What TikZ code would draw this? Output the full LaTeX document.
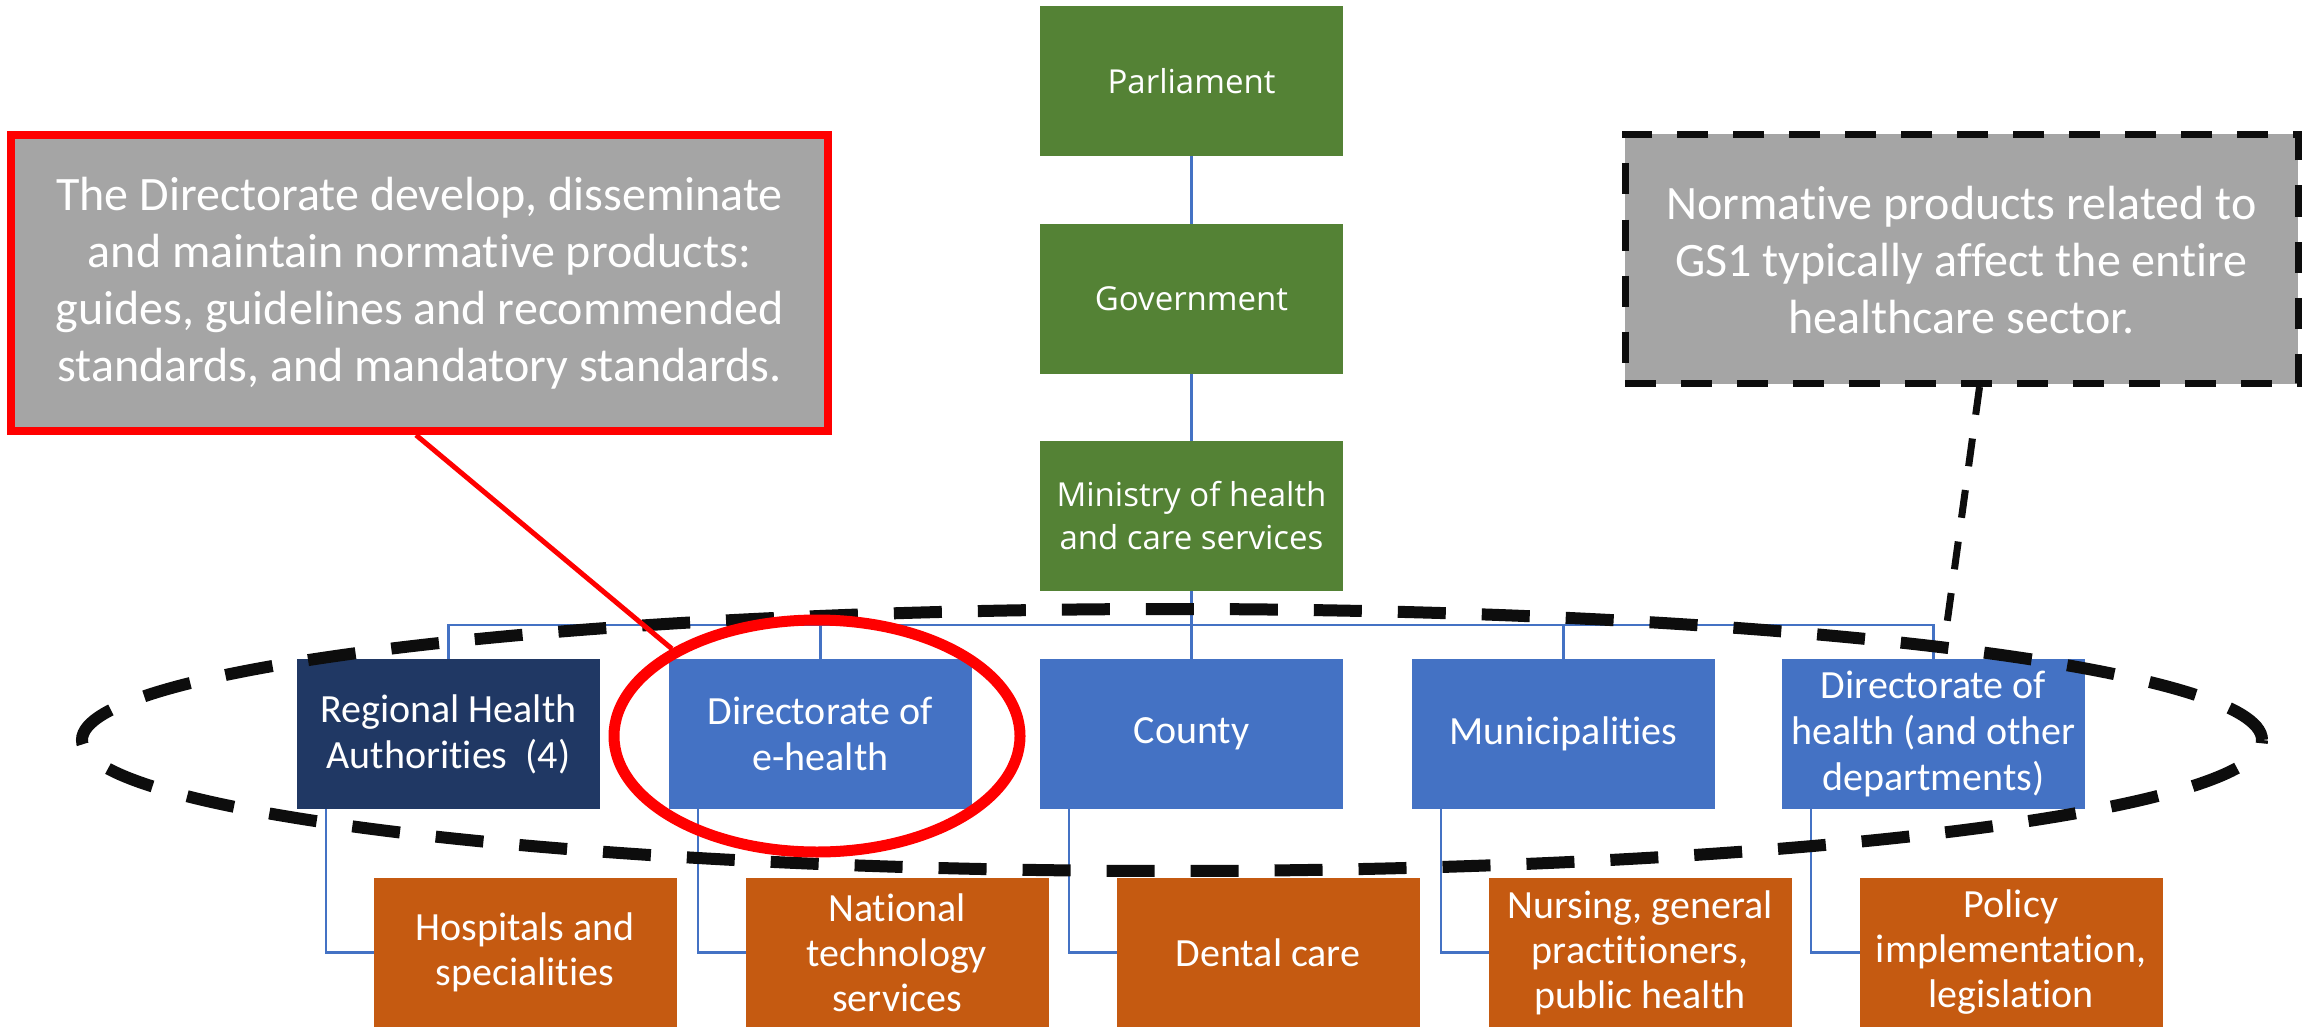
\documentclass[tikz,border=0pt]{standalone}
\usepackage{fontspec}
\setmainfont{Carlito}[RawFeature={-liga,-dlig,-clig}]
\newfontfamily\gfont{Open Sans}
\usetikzlibrary{shapes.geometric,calc}
\definecolor{cgreen}{HTML}{548235}
\definecolor{cdblue}{HTML}{203864}
\definecolor{cblue}{HTML}{4472C4}
\definecolor{corange}{HTML}{C55A11}
\definecolor{cgray}{HTML}{A5A5A5}
\definecolor{cred}{HTML}{FF0000}
\definecolor{cblack}{HTML}{0D0D0D}
\begin{document}
\begin{tikzpicture}[x=1pt,y=-1pt,
 box/.style={minimum width=303pt, minimum height=150pt, inner sep=0pt, outer sep=0pt, text=white, align=center},
 greenbox/.style={box, fill=cgreen, font=\gfont\fontsize{33}{43}\selectfont},
 bluebox/.style={box, fill=cblue, font=\fontsize{40}{46}\selectfont},
 dbluebox/.style={bluebox, fill=cdblue},
 orangebox/.style={box, fill=corange, minimum height=149pt, font=\fontsize{40}{45}\selectfont},
 conn/.style={draw=cblue, line width=2.5pt},
 calltext/.style={text=white, align=center, inner sep=0pt, font=\fontsize{48}{57}\selectfont},
 redcallbox/.style={draw=cred, line width=8pt, fill=cgray, inner sep=0pt, minimum width=817pt, minimum height=296pt},
 dashcallbox/.style={draw=cblack, line width=7pt, fill=cgray, dash pattern=on 31pt off 25pt, inner sep=0pt, minimum width=673pt, minimum height=249pt},
 bigdash/.style={draw=cblack, line width=12pt, dash pattern=on 48pt off 36pt},
 redring/.style={draw=cred, line width=11pt},
 redline/.style={draw=cred, line width=5pt},
 dashline/.style={draw=cblack, line width=7pt, dash pattern=on 28pt off 24pt}
]
\useasboundingbox (0,0) rectangle (2306,1027);
\fill[white] (0,0) rectangle (2306,1027);

% top column
\node[greenbox] (parl) at (1191.5,81) {Parliament};
\node[greenbox] (gov) at (1191.5,298.5) {Government};
\node[greenbox] (min) at (1191.5,516) {Ministry of health\\and care services};

% second row
\node[dbluebox] (b1) at (448.5,734) {Regional Health\\Authorities~ (4)};
\node[bluebox] (b2) at (820.5,734) {Directorate of\\e-health};
\node[bluebox] (b3) at (1191.5,734) {County};
\node[bluebox] (b4) at (1563.5,734) {Municipalities};
\node[bluebox] (b5) at (1933.5,734) {Directorate of\\health (and other\\departments)};

% third row
\node[orangebox] (o1) at (525,952.5) {Hospitals and\\specialities};
\node[orangebox] (o2) at (897,952.5) {National\\technology\\services};
\node[orangebox] (o3) at (1268,952.5) {Dental care};
\node[orangebox] (o4) at (1640,952.5) {Nursing, general\\practitioners,\\public health};
\node[orangebox] (o5) at (2011,952.5) {Policy\\implementation,\\legislation};

% connectors
\coordinate (bus) at (1191.5,625);
\draw[conn] (parl) -- (gov);
\draw[conn] (gov) -- (min);
\draw[conn] (min) -- (bus);
\draw[conn] (b1.north) -- (b1.north |- bus) -- (b5.north |- bus) -- (b5.north);
\foreach \b in {b2,b3,b4} \draw[conn] (\b.north) -- (\b.north |- bus);
\foreach \i in {1,...,5} \draw[conn] ([xshift=29pt]b\i.south west) |- (o\i.west);

% highlight ellipses
\node[ellipse, bigdash, minimum width=2180pt, minimum height=262pt, inner sep=0pt] (bigell) at (1172,740) {};
\node[ellipse, redring, minimum width=406pt, minimum height=232pt, inner sep=0pt] (ring) at (817,736) {};

% callouts
\node[redcallbox] (redcall) at (419.5,283) {};
\node[calltext] (redtext) at (419.5,283) {The Directorate develop, disseminate\\and maintain normative products:\\guides, guidelines and recommended\\standards, and mandatory standards.};
\draw[redline] ([xshift=409pt]redcall.south west) -- (ring.149);

\node[dashcallbox] (gscall) at (1961.5,259) {};
\node[calltext] (gstext) at (1961.5,260) {Normative products related to\\GS1 typically affect the entire\\healthcare sector.};
\coordinate (gsend) at (1944,645);
\draw[dashline] ([xshift=358pt]gscall.south west) -- (gsend);
\end{tikzpicture}
\end{document}
